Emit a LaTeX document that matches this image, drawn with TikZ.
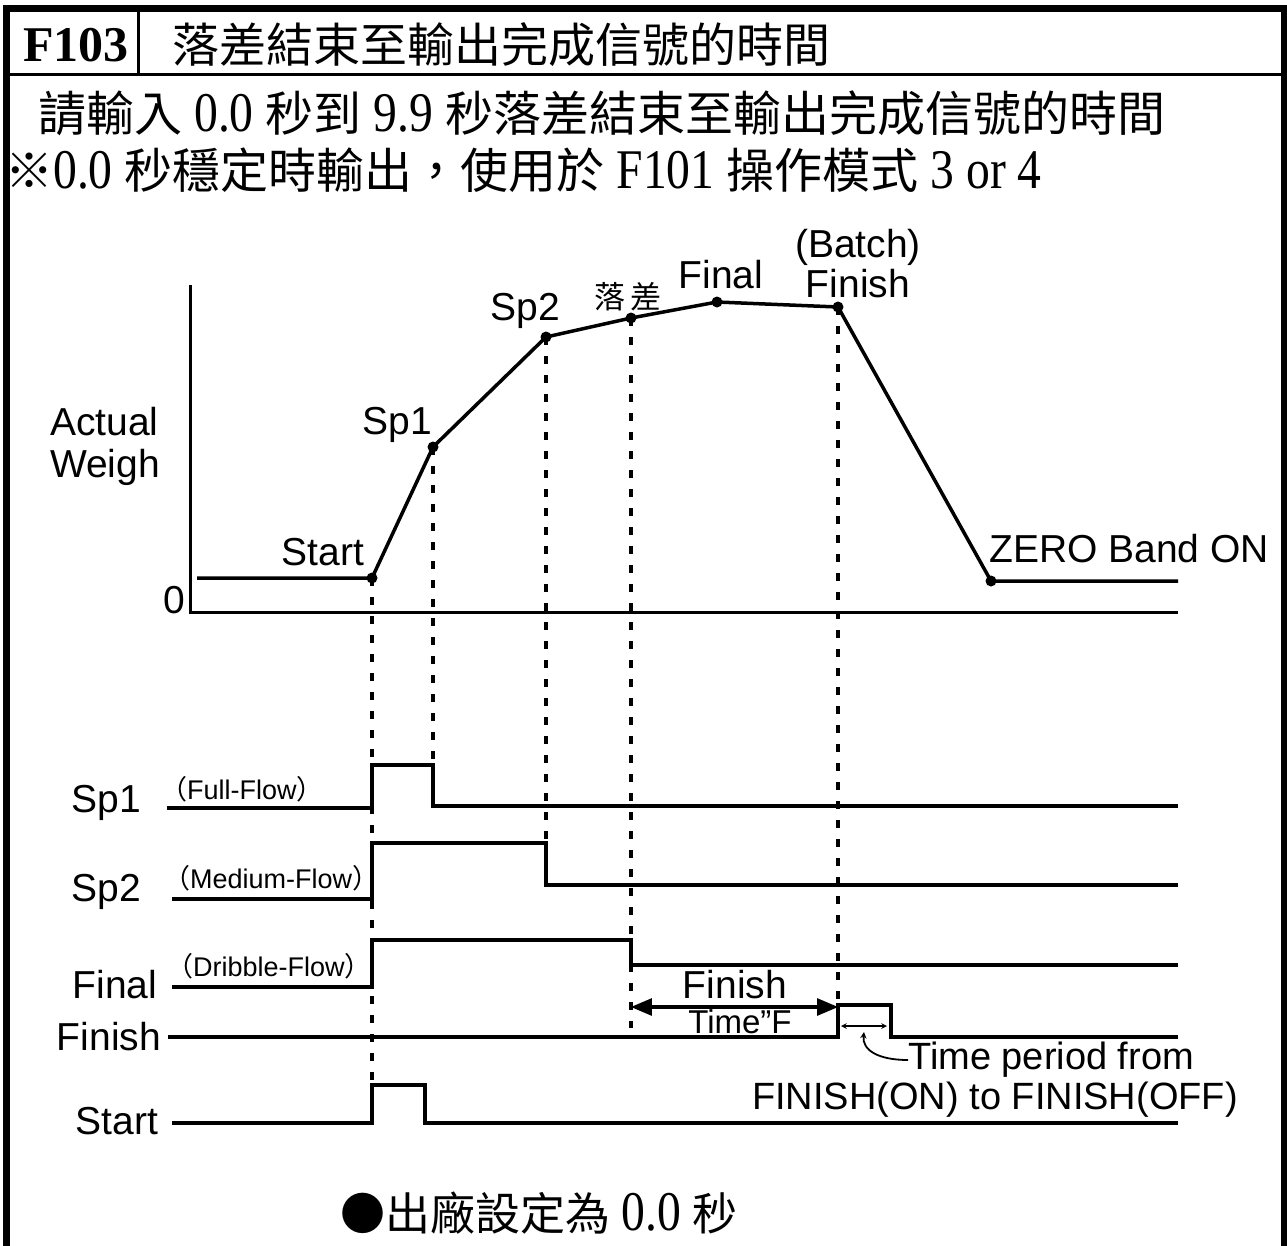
\documentclass[tikz,border=0pt]{standalone}
\usepackage{fontspec}
\setmainfont{Liberation Serif}
\setsansfont{Liberation Sans}
\newfontfamily\cjk{Noto Sans CJK TC}
\newfontfamily\lat[FakeStretch=0.85]{Liberation Serif}
\usetikzlibrary{arrows}

\newcommand{\fsz}[1]{\fontsize{#1}{#1}\selectfont}
\newcommand{\num}[1]{{\lat\fontsize{56}{56}\selectfont #1}}

\begin{document}
\begin{tikzpicture}[x=1pt,y=-1pt,>=triangle 45,
	lbl/.style={inner sep=0pt,font=\sffamily\fsz{39}},
	small/.style={inner sep=0pt,font=\sffamily\fsz{27}},
	curve/.style={line width=3.5pt,line join=round},
	sig/.style={line width=3.5pt,line join=miter},
	guide/.style={line width=3.5pt,dash pattern=on 8pt off 11pt}]
	\useasboundingbox (0,0) rectangle (1287,1245);

	% frame and header
	\draw[line width=6.5pt] (6.5,1250) -- (6.5,8.5) -- (1284,8.5) -- (1284,1250);
	\draw[line width=3.5pt] (6.5,74.5) -- (1284,74.5);
	\draw[line width=2.5pt] (138.5,8.5) -- (138.5,74.5);
	\node[inner sep=0pt,font=\bfseries\fsz{50}] (code) at (76,45) {F103};
	\node[inner sep=0pt,anchor=west,font=\fsz{47}] (title) at (172,45) {\cjk 落差結束至輸出完成信號的時間};
	\node[inner sep=0pt,anchor=west,font=\fsz{48}] (line2) at (38,113)
		{{\cjk 請輸入} \num{0.0} {\cjk 秒到} \num{9.9} {\cjk 秒落差結束至輸出完成信號的時間}};
	\node[inner sep=0pt,anchor=west,font=\fsz{48}] (line3) at (5,170)
		{{\cjk ※}\num{0.0} {\cjk 秒穩定時輸出，使用於} \num{F101} {\cjk 操作模式} \num{3 or 4}};

	% weight curve
	\draw[line width=3pt] (190,285) -- (190,612) -- (1178,612);
	\node[lbl] (zero) at (174,600) {0};
	\node[lbl,align=left,anchor=west,font=\sffamily\fontsize{39}{42}\selectfont] (weigh) at (50,446) {Actual\\Weigh};

	\coordinate (wBeg) at (197,578);
	\coordinate (wStart) at (372,578);
	\coordinate (wSp1) at (433,447);
	\coordinate (wSp2) at (546,337);
	\coordinate (wDrop) at (631,318);
	\coordinate (wFinal) at (717,302);
	\coordinate (wFinish) at (838,307);
	\coordinate (wZero) at (991,581);
	\coordinate (wEnd) at (1178,581);
	\draw[curve] (wBeg) -- (wStart) -- (wSp1) -- (wSp2) -- (wDrop) -- (wFinal) -- (wFinish) -- (wZero) -- (wEnd);
	\foreach \p in {wStart,wSp1,wSp2,wDrop,wFinal,wFinish,wZero}
		\fill (\p) circle (5.5);

	\node[lbl] (lStart) at (323,552) {Start};
	\node[lbl] (lSp1) at (397,425) {Sp1};
	\node[lbl] (lSp2) at (525,311) {Sp2};
	\node[inner sep=0pt,font=\fsz{31}] (lDrop) at (628,297) {\cjk 落\,差};
	\node[lbl] (lFinal) at (721,275) {Final};
	\node[lbl,align=center,font=\sffamily\fontsize{39}{40}\selectfont] (lBatch) at (858,264) {(Batch)\\Finish};
	\node[lbl] (lZero) at (1129,549) {ZERO Band ON};

	% timing signals
	\node[lbl] (tSp1) at (106,803) {Sp1};
	\node[lbl] (tSp2) at (106,892) {Sp2};
	\node[lbl] (tFinal) at (115,985) {Final};
	\node[lbl] (tFinish) at (109,1037) {Finish};
	\node[lbl] (tStart) at (117,1121) {Start};
	\node[small,anchor=west] (fSp1) at (160,789) {{\cjk （}Full-Flow{\cjk ）}};
	\node[small,anchor=west] (fSp2) at (163,878) {{\cjk （}Medium-Flow{\cjk ）}};
	\node[small,anchor=west] (fFinal) at (166,966) {{\cjk （}Dribble-Flow{\cjk ）}};

	\draw[sig] (167,808) -- (372,808) -- (372,765) -- (433,765) -- (433,806) -- (1178,806);
	\draw[sig] (172,899) -- (372,899) -- (372,843) -- (546,843) -- (546,885) -- (1178,885);
	\draw[sig] (172,987) -- (372,987) -- (372,940) -- (631,940) -- (631,965) -- (1178,965);
	\draw[sig] (168,1037) -- (838,1037) -- (838,1005) -- (891,1005) -- (891,1037) -- (1178,1037);
	\draw[sig] (172,1123) -- (372,1123) -- (372,1085) -- (425,1085) -- (425,1123) -- (1178,1123);

	% guide lines
	\coordinate (gStart) at (372,1085);
	\coordinate (gSp1) at (433,765);
	\coordinate (gSp2) at (546,843);
	\coordinate (gDrop) at (631,1028);
	\coordinate (gFinish) at (838,1005);
	\foreach \a/\b in {wStart/gStart,wSp1/gSp1,wSp2/gSp2,wDrop/gDrop,wFinish/gFinish}
		\draw[guide] (\a) -- (\b);

	% finish time
	\coordinate (ftL) at (631,1007);
	\coordinate (ftR) at (838,1007);
	\draw[<->,line width=4pt] (ftL) -- (ftR);
	\node[lbl] (ftTop) at (735,985) {Finish};
	\node[inner sep=0pt,font=\sffamily\fsz{33}] (ftBot) at (740,1022) {Time”F};

	\coordinate (fpL) at (841,1026);
	\coordinate (fpR) at (887,1026);
	\draw[<->,>=stealth,line width=1.5pt] (fpL) -- (fpR);
	\node[lbl,anchor=west,font=\sffamily\fsz{38}] (tpNote) at (908,1060) {Time period from};
	\node[lbl,anchor=west,font=\sffamily\fsz{38}] (tpNote2) at (752,1100) {FINISH(ON) to FINISH(OFF)};
	\draw[->,>=stealth,line width=1.8pt] (tpNote.west) .. controls (878,1060) and (862,1050) .. (864,1032);

	% default value
	\node[inner sep=0pt,anchor=west,font=\fsz{45}] (dflt) at (340,1213) {{\cjk ●出廠設定為} \num{0.0} {\cjk 秒}};
\end{tikzpicture}
\end{document}
